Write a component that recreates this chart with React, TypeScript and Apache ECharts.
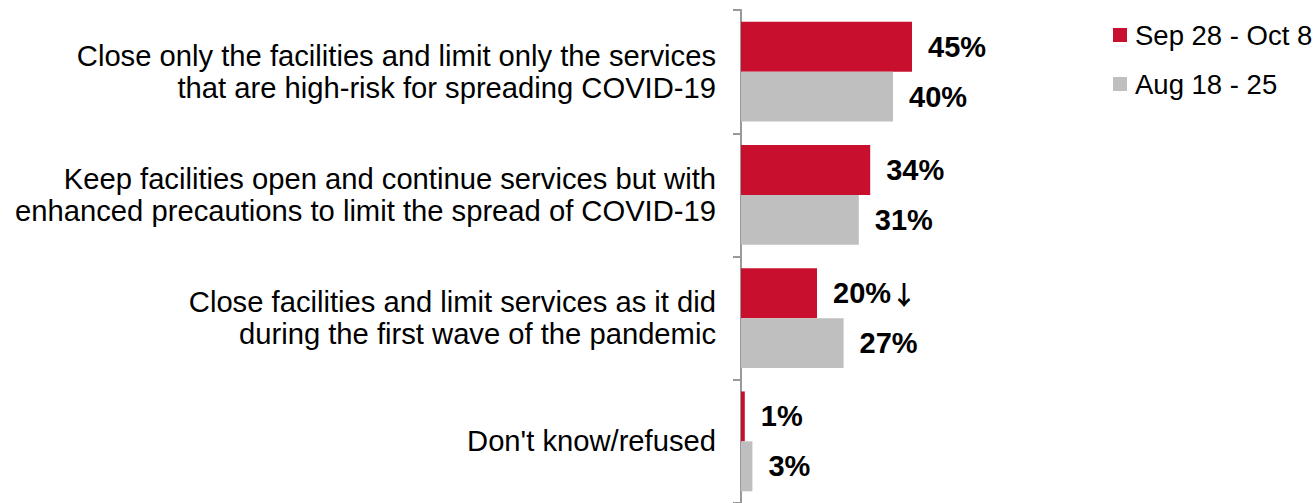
import React, { useEffect, useRef } from "react";
import * as echarts from "echarts";

const categories = [
  "Close only the facilities and limit only the services\nthat are high-risk for spreading COVID-19",
  "Keep facilities open and continue services but with\nenhanced precautions to limit the spread of COVID-19",
  "Close facilities and limit services as it did\nduring the first wave of the pandemic",
  "Don't know/refused",
];
const seriesNames = ["Sep 28 - Oct 8", "Aug 18 - 25"];
const sepValues = [45, 34, 20, 1];
const augValues = [40, 31, 27, 3];
const sepNotes = ["", "", "\u2193", ""];
const augNotes = ["", "", "", ""];

const FONT = "'Liberation Sans', Arial, sans-serif";

export default function App() {
  const ref = useRef<HTMLDivElement>(null);
  useEffect(() => {
    if (!ref.current) return;
    const chart = echarts.init(ref.current, undefined, { renderer: "svg" });
    const rich = {
      v: { fontFamily: FONT, fontSize: 29, fontWeight: "bold" as const, color: "#000" },
      a: {
        fontFamily: "'Noto Sans CJK SC', 'DejaVu Sans', sans-serif",
        fontSize: 26,
        fontWeight: "bold" as const,
        color: "#000",
        padding: [0, 0, 0, 0],
      },
    };
    const fmt = (notes: string[]) => (p: any) =>
      "{v|" + p.value + "%}" + (notes[p.dataIndex] ? "{a|" + notes[p.dataIndex] + "}" : "");
    const labelStyle = {
      show: true,
      position: "right" as const,
      distance: 16,
      rich,
    };
    chart.setOption({
      animation: false,
      textStyle: { fontFamily: FONT },
      legend: {
        orient: "vertical",
        left: 1113,
        top: 21,
        padding: 0,
        itemWidth: 14,
        itemHeight: 14,
        itemGap: 21,
        icon: "rect",
        textStyle: { fontFamily: FONT, fontSize: 27.5, lineHeight: 27, color: "#000", padding: [0, 0, 0, 3] },
        data: seriesNames,
      },
      grid: { left: 741, top: 10, width: 380, height: 495, containLabel: false },
      xAxis: {
        type: "value",
        min: 0,
        max: 100,
        show: false,
      },
      yAxis: {
        type: "category",
        inverse: true,
        data: categories,
        axisLine: { show: true, lineStyle: { color: "#999", width: 2 } },
        axisTick: { show: true, length: 8, lineStyle: { color: "#999", width: 2 } },
        axisLabel: {
          margin: 25,
          fontFamily: FONT,
          fontSize: 29.2,
          lineHeight: 32,
          color: "#000",
          align: "right",
        },
      },
      series: [
        {
          name: seriesNames[0],
          type: "bar",
          data: sepValues,
          barGap: "0%",
          barCategoryGap: "19%",
          itemStyle: { color: "#C8102E" },
          label: { ...labelStyle, formatter: fmt(sepNotes) },
        },
        {
          name: seriesNames[1],
          type: "bar",
          data: augValues,
          barGap: "0%",
          barCategoryGap: "19%",
          itemStyle: { color: "#BFBFBF" },
          label: { ...labelStyle, formatter: fmt(augNotes) },
        },
      ],
    });
    return () => chart.dispose();
  }, []);
  return (
    <div
      ref={ref}
      style={{ position: "absolute", left: 0, top: 0, width: 1316, height: 503, background: "#fff" }}
    />
  );
}
